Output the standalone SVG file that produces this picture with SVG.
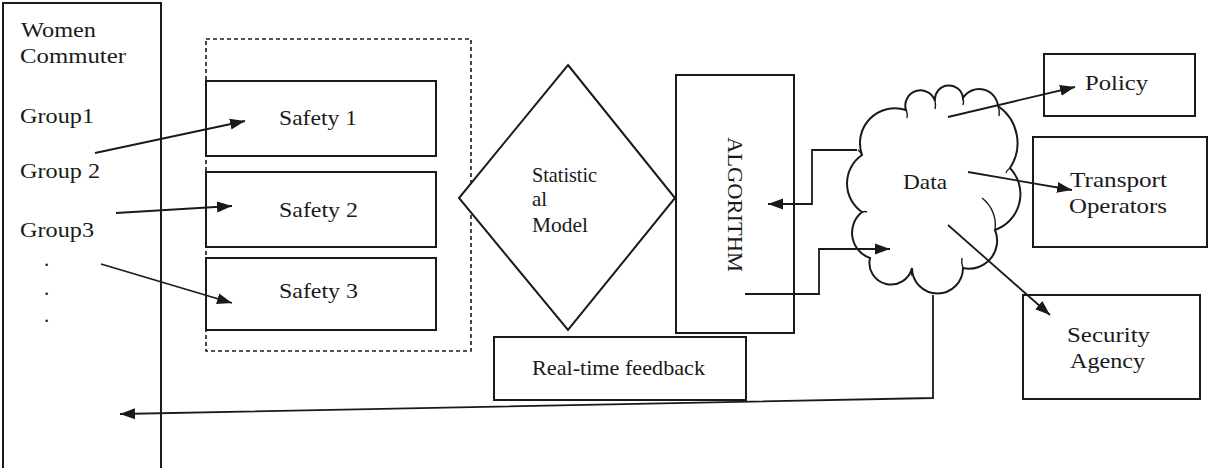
<svg xmlns="http://www.w3.org/2000/svg" width="1208" height="468" viewBox="0 0 1208 468">
<style>
.box{fill:#fff;stroke:#1a1a1a;stroke-width:2}
.dash{fill:none;stroke:#1a1a1a;stroke-width:1.6;stroke-dasharray:4,3}
.t{font-family:"Liberation Serif","Times New Roman",serif;font-size:21px;fill:#1a1a1a}
.ln{fill:none;stroke:#1a1a1a;stroke-width:1.8}
.tk{fill:none;stroke:#1a1a1a;stroke-width:1.4}
</style>
<defs>
<marker id="ah" markerUnits="userSpaceOnUse" markerWidth="16" markerHeight="12" refX="15" refY="6" orient="auto">
<path d="M0,0.5 L15,6 L0,11.5 z" fill="#1a1a1a"/>
</marker>
</defs>
<rect width="1208" height="468" fill="#fff"/>
<g id="women-commuter">
<rect class="box" x="3" y="3" width="158" height="475"/>
<text class="t" x="21" y="37" textLength="75" lengthAdjust="spacingAndGlyphs">Women</text>
<text class="t" x="20" y="63" textLength="106" lengthAdjust="spacingAndGlyphs">Commuter</text>
<text class="t" x="20" y="123" textLength="74" lengthAdjust="spacingAndGlyphs">Group1</text>
<text class="t" x="20" y="178" textLength="80" lengthAdjust="spacingAndGlyphs">Group 2</text>
<text class="t" x="20" y="237" textLength="74" lengthAdjust="spacingAndGlyphs">Group3</text>
<text class="t" x="44" y="266">.</text>
<text class="t" x="44" y="295">.</text>
<text class="t" x="44" y="322">.</text>
</g>
<g id="safety-group">
<rect class="dash" x="206" y="39" width="265" height="312"/>
</g>
<g id="safety-1">
<rect class="box" x="206" y="81" width="230" height="75"/>
<text class="t" x="279" y="125" textLength="78" lengthAdjust="spacingAndGlyphs">Safety 1</text>
</g>
<g id="safety-2">
<rect class="box" x="206" y="172" width="230" height="75"/>
<text class="t" x="279" y="217" textLength="79" lengthAdjust="spacingAndGlyphs">Safety 2</text>
</g>
<g id="safety-3">
<rect class="box" x="206" y="258" width="230" height="72"/>
<text class="t" x="279" y="298" textLength="79" lengthAdjust="spacingAndGlyphs">Safety 3</text>
</g>
<g id="statistical-model">
<polygon class="box" points="568,65 675,198 568,330 459,198"/>
<text class="t" x="532" y="182" textLength="65" lengthAdjust="spacingAndGlyphs">Statistic</text>
<text class="t" x="532" y="206">al</text>
<text class="t" x="532" y="232" textLength="56" lengthAdjust="spacingAndGlyphs">Model</text>
</g>
<g id="algorithm">
<rect class="box" x="676" y="75" width="118" height="258"/>
<text class="t" transform="translate(728,137) rotate(90)" x="0" y="0" textLength="135" lengthAdjust="spacingAndGlyphs">ALGORITHM</text>
</g>
<g id="realtime-feedback">
<rect class="box" x="494" y="337" width="252" height="63"/>
<text class="t" x="532" y="375" textLength="173" lengthAdjust="spacingAndGlyphs">Real-time feedback</text>
</g>
<g id="data">
<path class="box" stroke-width="1.6" d="M862,155 A35,35 0 0 1 906,110 A15,15 0 0 1 935,101 A14,14 0 0 1 963,98 A19,19 0 0 1 998,106 A45,45 0 0 1 1010,168 A38,38 0 0 1 995,230 A28,28 0 0 1 963,268 A25.5,25.5 0 1 1 912,268 A21.5,21.5 0 0 1 870,258 A26.7,26.7 0 0 1 862,212 A34.6,34.6 0 0 1 862,155 Z"/>
<path class="tk" d="M982,198 A34,34 0 0 1 995,230"/>
<path class="tk" d="M906,110 Q908,114 907,118"/>
<path class="tk" d="M935,101 Q936,105 935,109"/>
<path class="tk" d="M963,98 Q964,102 963,105"/>
<path class="tk" d="M998,106 Q1000,111 999,116"/>
<path class="tk" d="M1010,168 Q1007,170 1006,173"/>
<path class="tk" d="M963,268 Q961,263 962,258"/>
<path class="tk" d="M912,268 Q911,272 912,276"/>
<path class="tk" d="M862,212 Q865,211 867,212"/>
<path class="tk" d="M862,155 Q860,151 858,150"/>
<text class="t" x="903" y="189" textLength="44" lengthAdjust="spacingAndGlyphs">Data</text>
</g>
<g id="policy">
<rect class="box" x="1044" y="54" width="151" height="62"/>
<text class="t" x="1085" y="90" textLength="63" lengthAdjust="spacingAndGlyphs">Policy</text>
</g>
<g id="transport-operators">
<rect class="box" x="1033" y="137" width="174" height="110"/>
<text class="t" x="1070" y="187" textLength="97" lengthAdjust="spacingAndGlyphs">Transport</text>
<text class="t" x="1069" y="213" textLength="98" lengthAdjust="spacingAndGlyphs">Operators</text>
</g>
<g id="security-agency">
<rect class="box" x="1023" y="295" width="177" height="104"/>
<text class="t" x="1067" y="342" textLength="83" lengthAdjust="spacingAndGlyphs">Security</text>
<text class="t" x="1070" y="368" textLength="75" lengthAdjust="spacingAndGlyphs">Agency</text>
</g>
<g id="connectors">
<path class="ln" marker-end="url(#ah)" d="M95,153 L245,121"/>
<path class="ln" marker-end="url(#ah)" d="M116,213 L232,206"/>
<path class="ln" marker-end="url(#ah)" d="M101,264 L232,303"/>
<path class="ln" marker-end="url(#ah)" d="M933,295 L933,398 L120,414"/>
<path class="ln" marker-end="url(#ah)" d="M857,150 L812,150 L812,204 L768,204"/>
<path class="ln" marker-end="url(#ah)" d="M745,294 L819,294 L819,249 L890,249"/>
<path class="ln" marker-end="url(#ah)" d="M948,117 L1075,87"/>
<path class="ln" marker-end="url(#ah)" d="M968,172 L1072,190"/>
<path class="ln" marker-end="url(#ah)" d="M948,225 L1050,315"/>
</g>
</svg>
